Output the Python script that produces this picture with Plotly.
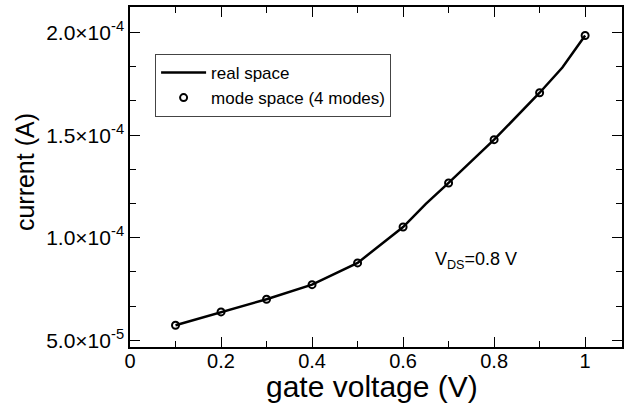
import plotly.graph_objects as go

# mode space (4 modes) points
mode_x = [0.1, 0.2, 0.3, 0.4, 0.5, 0.6, 0.7, 0.8, 0.9, 1.0]
mode_y = [5.73e-5, 6.38e-5, 7.00e-5, 7.71e-5, 8.77e-5, 10.52e-5, 12.67e-5, 14.78e-5, 17.07e-5, 19.86e-5]

# real space line
real_x = [0.1, 0.2, 0.3, 0.4, 0.5, 0.6, 0.65, 0.7, 0.8, 0.9, 0.95, 1.0]
real_y = [5.73e-5, 6.38e-5, 7.00e-5, 7.71e-5, 8.77e-5, 10.52e-5, 11.65e-5, 12.67e-5, 14.78e-5, 17.07e-5, 18.30e-5, 19.86e-5]

x_ticks = [0, 0.2, 0.4, 0.6, 0.8, 1.0]
x_ticktext = ["0", "0.2", "0.4", "0.6", "0.8", "1"]
y_ticks = [5e-5, 1e-4, 1.5e-4, 2e-4]
y_ticktext = ["5.0×10<sup>-5</sup>", "1.0×10<sup>-4</sup>", "1.5×10<sup>-4</sup>", "2.0×10<sup>-4</sup>"]

FONT = "Liberation Sans, Arial, sans-serif"

fig = go.Figure()
fig.add_trace(go.Scatter(x=real_x, y=real_y, mode="lines", name="real space",
                         line=dict(color="black", width=2.5)))
fig.add_trace(go.Scatter(x=mode_x, y=mode_y, mode="markers", name="mode space (4 modes)",
                         marker=dict(symbol="circle-open", size=7, color="black",
                                     line=dict(width=2, color="black"))))

axis_common = dict(showline=True, linecolor="black", linewidth=1.5, mirror="allticks",
                   ticks="inside", ticklen=10, tickwidth=1.2, tickcolor="black",
                   showgrid=False, zeroline=False, automargin=False)

fig.update_xaxes(range=[0, 1.081], tickvals=x_ticks, ticktext=x_ticktext,
                 tickfont=dict(family=FONT, size=20, color="black"), ticklabelstandoff=-5,
                 minor=dict(dtick=0.1, tick0=0, ticklen=6, ticks="inside", tickcolor="black", tickwidth=1.2),
                 **axis_common)
fig.update_yaxes(range=[4.67e-5, 2.125e-4], tickvals=y_ticks, ticktext=y_ticktext,
                 tickfont=dict(family=FONT, size=21, color="black"),
                 minor=dict(dtick=5e-5/3, tick0=5e-5, ticklen=6, ticks="inside", tickcolor="black", tickwidth=1.2),
                 **axis_common)

# axis titles
fig.add_annotation(x=0.492, y=-0.117, xref="paper", yref="paper", xanchor="center", yanchor="middle",
                   text="gate voltage (V)", showarrow=False,
                   font=dict(family=FONT, size=30, color="black"))
fig.add_annotation(x=-0.213, y=0.515, xref="paper", yref="paper", xanchor="center", yanchor="middle",
                   text="current (A)", showarrow=False, textangle=-90,
                   font=dict(family=FONT, size=25, color="black"))

fig.add_annotation(x=0.666, y=8.9e-5, xref="x", yref="y", xanchor="left", yanchor="middle",
                   text="V<sub>DS</sub>=0.8 V", showarrow=False,
                   font=dict(family=FONT, size=18, color="black"))

fig.update_layout(
    width=629, height=407,
    margin=dict(l=130, r=7, t=7, b=60),
    paper_bgcolor="white", plot_bgcolor="white",
    showlegend=True,
    legend=dict(x=0.051, y=0.862, xanchor="left", yanchor="top",
                bordercolor="#444", borderwidth=1, bgcolor="white",
                font=dict(family=FONT, size=17, color="black"),
                tracegroupgap=0, itemwidth=45),
)

fig.write_html("out.html", config={"displayModeBar": False},
               post_script="document.body.style.margin='0';document.body.style.padding='0';")
